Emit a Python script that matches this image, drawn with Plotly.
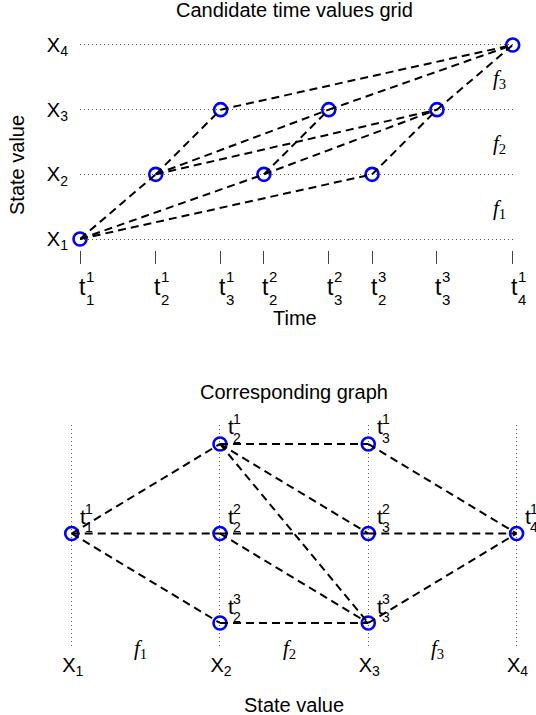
import plotly.graph_objects as go

W, H = 536, 715
FONT = "Liberation Sans"
SERIF = "Liberation Serif"

# ---- data -------------------------------------------------------------
state_levels = [1, 2, 3, 4]
state_ticktext = ["X<sub>1</sub>", "X<sub>2</sub>", "X<sub>3</sub>", "X<sub>4</sub>"]

# candidate time points: state they belong to, candidate number, time value
cand_state = [1, 2, 3, 2, 3, 2, 3, 4]
cand_index = [1, 1, 1, 2, 2, 3, 3, 1]
cand_time = [0.0, 1.75, 3.25, 4.25, 5.75, 6.75, 8.25, 10.0]
# row of each candidate in the graph view (single candidates sit in the middle)
graph_row = [2, 1, 1, 2, 2, 3, 3, 2]

# admissible transitions (positions in the candidate lists)
edges = [(0, 1), (0, 3), (0, 5),
         (1, 2), (1, 4), (1, 6),
         (3, 4), (3, 6),
         (5, 6),
         (2, 7), (4, 7), (6, 7)]

cost_names = ["<i>f</i><sub>1</sub>", "<i>f</i><sub>2</sub>", "<i>f</i><sub>3</sub>"]


def pxx(p):
    return p / W


def pyy(p):
    return 1 - p / H


fig = go.Figure()

marker = dict(symbol="circle-open", size=13, color="#0000ff",
              line=dict(color="#0000ff", width=2.6))
dash_line = dict(color="black", width=2, dash="8px,5px")

# ---- top panel: candidate times on the time axis ----------------------
fig.add_trace(go.Scatter(x=cand_time, y=cand_state, mode="markers",
                         marker=marker, cliponaxis=False,
                         xaxis="x", yaxis="y", hoverinfo="skip"))
ex, ey = [], []
for a, b in edges:
    ex += [cand_time[a], cand_time[b], None]
    ey += [cand_state[a], cand_state[b], None]
fig.add_trace(go.Scatter(x=ex, y=ey, mode="lines", line=dash_line,
                         cliponaxis=False, xaxis="x", yaxis="y",
                         hoverinfo="skip"))

# ---- bottom panel: the corresponding graph -----------------------------
fig.add_trace(go.Scatter(x=cand_state, y=graph_row, mode="markers",
                         marker=marker, cliponaxis=False,
                         xaxis="x2", yaxis="y2", hoverinfo="skip"))
gx, gy = [], []
for a, b in edges:
    gx += [cand_state[a], cand_state[b], None]
    gy += [graph_row[a], graph_row[b], None]
fig.add_trace(go.Scatter(x=gx, y=gy, mode="lines", line=dash_line,
                         cliponaxis=False, xaxis="x2", yaxis="y2",
                         hoverinfo="skip"))

ann = []


def text(x, y, s, size=20, xref="paper", yref="paper", angle=0,
         xshift=0, yshift=0, family=FONT):
    ann.append(dict(x=x, y=y, xref=xref, yref=yref, text=s, showarrow=False,
                    textangle=angle, xshift=xshift, yshift=yshift,
                    xanchor="center", yanchor="middle",
                    font=dict(family=family, size=size, color="black")))


def t_label(x, y, sup, sub, xref, yref, dx, dy, big, small, up, down, gap):
    # "t" with stacked superscript / subscript
    text(x, y, "t", big, xref, yref, xshift=dx, yshift=dy)
    text(x, y, str(sup), small, xref, yref, xshift=dx + gap, yshift=dy + up)
    text(x, y, str(sub), small, xref, yref, xshift=dx + gap, yshift=dy - down)


# titles
text(pxx(294.5), pyy(10.5), "Candidate time values grid")
text(pxx(295), pyy(318), "Time")
text(pxx(17), pyy(165), "State value", angle=-90)
text(pxx(294), pyy(392), "Corresponding graph")
text(pxx(294), pyy(705), "State value")

# time tick labels (top panel)
for tv, s, k in zip(cand_time, cand_state, cand_index):
    t_label(tv, pyy(287), k, s, "x", "paper", 2, 0, 23, 15, 11, 12, 7.5)

# node labels (bottom panel)
for s, k, r in zip(cand_state, cand_index, graph_row):
    t_label(s, r, k, s, "x2", "y2", 11.5, 17, 21, 14, 7.5, 11, 6)

# cost function labels
for i, name in enumerate(cost_names):
    text(9.7, state_levels[i] + 0.5, name, 21, "x", "y", yshift=-2, family=SERIF)
    text(state_levels[i] + 0.5, pyy(649), name, 21, "x2", "paper",
         xshift=-5, family=SERIF)

grid_style = dict(showgrid=True, gridcolor="#555555", gridwidth=1,
                  griddash="1px,3px")

fig.update_layout(
    width=W, height=H,
    margin=dict(l=0, r=0, t=0, b=0, pad=0, autoexpand=False),
    paper_bgcolor="white", plot_bgcolor="white",
    showlegend=False,
    font=dict(family=FONT, size=20, color="black"),
    annotations=ann,
    xaxis=dict(domain=[pxx(80), pxx(512.7)], range=[0, 10],
               anchor="free", position=pyy(250), automargin=False,
               showgrid=False, zeroline=False, showline=False,
               tickvals=cand_time, ticks="outside", ticklen=13,
               tickwidth=1, tickcolor="#444444", showticklabels=False),
    yaxis=dict(domain=[pyy(240.3), pyy(43.7)], range=[0.98, 4.02],
               anchor="x", zeroline=False, showline=False, automargin=False,
               tickvals=state_levels, ticktext=state_ticktext,
               ticks="", ticklabelstandoff=11,
               tickfont=dict(family=FONT, size=20, color="black"),
               **grid_style),
    xaxis2=dict(domain=[0, 1], range=[0.5165, 4.131], anchor="y2",
                zeroline=False, showline=False, automargin=False,
                tickvals=state_levels, ticktext=state_ticktext,
                ticks="", ticklabelshift=1, ticklabelstandoff=4,
                tickfont=dict(family=FONT, size=20, color="black"),
                **grid_style),
    yaxis2=dict(domain=[pyy(647), pyy(425)], range=[3.268, 0.788],
                anchor="x2", showgrid=False, zeroline=False, automargin=False,
                showline=False, showticklabels=False, ticks=""),
)

fig.write_html("out.html")
